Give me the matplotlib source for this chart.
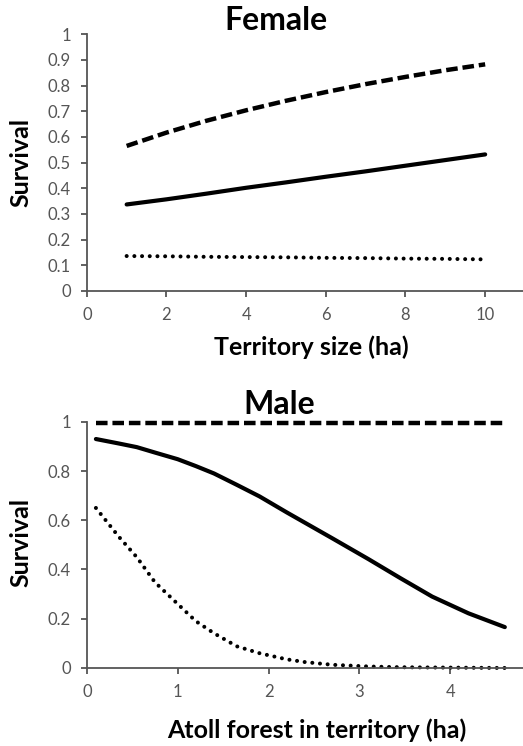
import matplotlib.pyplot as plt
import numpy as np

# Female: survival vs territory size
f_x = [1, 2, 3, 4, 5, 6, 7, 8, 9, 10]
f_high = [0.565, 0.617, 0.663, 0.704, 0.741, 0.775, 0.806, 0.834, 0.86, 0.883]
f_mid = [0.337, 0.357, 0.379, 0.402, 0.423, 0.445, 0.466, 0.488, 0.51, 0.532]
f_low = [0.136, 0.135, 0.133, 0.132, 0.131, 0.129, 0.128, 0.126, 0.125, 0.123]

# Male: survival vs atoll forest in territory
m_x = [0.1, 0.35, 0.55, 0.75, 1.0, 1.2, 1.4, 1.65, 1.9, 2.2, 2.4, 2.7, 3.1, 3.45, 3.8, 4.2, 4.6]
m_high = [0.995] * len(m_x)
m_mid = [0.93, 0.912, 0.897, 0.875, 0.848, 0.82, 0.79, 0.744, 0.697, 0.632, 0.59,
         0.527, 0.442, 0.365, 0.29, 0.222, 0.166]
m_low = [0.65, 0.534, 0.45, 0.348, 0.26, 0.19, 0.141, 0.088, 0.06, 0.035, 0.024,
         0.013, 0.006, 0.003, 0.002, 0.001, 0.0]

plt.rcParams['font.family'] = ['Lato', 'DejaVu Sans']
grey = '#555555'

fig = plt.figure(figsize=(5.23, 7.46), dpi=100)


def style_ax(ax):
    for s in ['top', 'right']:
        ax.spines[s].set_visible(False)
    for s in ['left', 'bottom']:
        ax.spines[s].set_color(grey)
        ax.spines[s].set_linewidth(1.3)
    ax.tick_params(colors=grey, labelcolor=grey, labelsize=12, length=4.5, width=1.3,
                   direction='out', pad=7)


def draw(ax, x, hi, mid, lo):
    ax.plot(x, hi, color='black', lw=3.2, linestyle=(0, (2.6, 1.1)), clip_on=False)
    ax.plot(x, mid, color='black', lw=3.0, clip_on=False, solid_capstyle='round')
    ax.plot(x, lo, color='black', lw=2.9, linestyle=(0, (0.01, 1.9)),
            dash_capstyle='round', clip_on=False)


ax1 = fig.add_axes([0.166, 0.610, 0.834, 0.344])
draw(ax1, f_x, f_high, f_mid, f_low)
ax1.set_xlim(0, 10.95)
ax1.set_ylim(0, 1)
ax1.set_xticks([0, 2, 4, 6, 8, 10])
ax1.set_yticks(np.arange(0, 1.01, 0.1))
ax1.set_yticklabels(['0', '0.1', '0.2', '0.3', '0.4', '0.5', '0.6', '0.7', '0.8', '0.9', '1'])
style_ax(ax1)
ax1.set_xlabel('Territory size (ha)', fontsize=18, fontweight='bold')
ax1.xaxis.set_label_coords(0.514, -0.175)
ax1.set_ylabel('Survival', fontsize=18, fontweight='bold')
ax1.yaxis.set_label_coords(-0.124, 0.5)
fig.text(0.528, 0.973, 'Female', fontsize=23, fontweight='bold', ha='center', va='center')

ax2 = fig.add_axes([0.166, 0.1046, 0.834, 0.330])
draw(ax2, m_x, m_high, m_mid, m_low)
ax2.set_xlim(0, 4.8)
ax2.set_ylim(0, 1)
ax2.set_xticks([0, 1, 2, 3, 4])
ax2.set_yticks([0, 0.2, 0.4, 0.6, 0.8, 1])
ax2.set_yticklabels(['0', '0.2', '0.4', '0.6', '0.8', '1'])
style_ax(ax2)
ax2.set_xlabel('Atoll forest in territory (ha)', fontsize=18, fontweight='bold')
ax2.xaxis.set_label_coords(0.527, -0.205)
ax2.set_ylabel('Survival', fontsize=18, fontweight='bold')
ax2.yaxis.set_label_coords(-0.124, 0.51)
fig.text(0.534, 0.458, 'Male', fontsize=23, fontweight='bold', ha='center', va='center')

fig.savefig('out.png', dpi=100)
